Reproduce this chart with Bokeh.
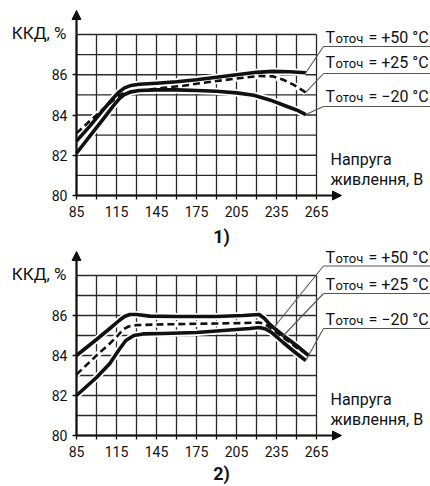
from bokeh.plotting import figure
from bokeh.layouts import column
from bokeh.models import Range1d, FixedTicker, Arrow, NormalHead
from bokeh.core.properties import value
from bokeh.embed import file_html
from bokeh.resources import INLINE

# ---------------- data ----------------
volt_ticks = [85, 115, 145, 175, 205, 235, 265]
volt_minor = [100, 130, 160, 190, 220, 250]
eff_ticks = [80, 82, 84, 86]
eff_minor = [81, 83, 85, 87]
grid_volts = [85, 100, 115, 130, 145, 160, 175, 190, 205, 220, 235, 250, 265]
grid_effs = [80, 81, 82, 83, 84, 85, 86, 87, 88]

series_labels = ["= +50 °C", "= +25 °C", "= \u221220 °C"]

# chart 1)
c1_v_p50 = [85, 95, 105, 112, 117, 121, 126, 132, 145, 160, 175, 190, 205, 220, 232, 245, 257]
c1_e_p50 = [82.7, 83.45, 84.25, 84.8, 85.15, 85.35, 85.47, 85.53, 85.58, 85.65, 85.75, 85.88, 86.0, 86.12, 86.17, 86.15, 86.1]
c1_v_p25 = [85, 95, 105, 112, 117, 121, 126, 135, 150, 165, 180, 195, 210, 222, 232, 240, 248, 257]
c1_e_p25 = [83.1, 83.7, 84.3, 84.7, 84.98, 85.1, 85.17, 85.22, 85.35, 85.45, 85.6, 85.73, 85.85, 85.94, 85.92, 85.75, 85.5, 85.12]
c1_v_m20 = [85, 95, 105, 112, 117, 121, 126, 132, 145, 160, 175, 190, 205, 218, 230, 242, 250, 257]
c1_e_m20 = [82.1, 82.95, 83.8, 84.4, 84.8, 85.02, 85.15, 85.22, 85.25, 85.25, 85.22, 85.18, 85.1, 84.98, 84.75, 84.45, 84.25, 84.02]

# chart 2)
c2_v_p50 = [85, 100, 110, 117, 121, 125, 130, 140, 160, 190, 210, 222, 226, 230, 240, 250, 259]
c2_e_p50 = [84.0, 84.8, 85.35, 85.75, 85.95, 86.05, 86.05, 85.97, 85.95, 85.95, 86.0, 86.05, 85.85, 85.55, 85.0, 84.5, 84.0]
c2_v_p25 = [85, 100, 110, 116, 120, 124, 130, 145, 170, 190, 210, 222, 226, 230, 240, 247, 254]
c2_e_p25 = [83.05, 84.0, 84.6, 85.0, 85.3, 85.45, 85.52, 85.55, 85.58, 85.6, 85.62, 85.65, 85.58, 85.4, 84.9, 84.55, 84.2]
c2_v_m20 = [85, 100, 110, 117, 122, 128, 135, 150, 175, 195, 215, 222, 227, 231, 240, 250, 257]
c2_e_m20 = [82.0, 82.9, 83.6, 84.3, 84.75, 85.0, 85.08, 85.1, 85.15, 85.25, 85.35, 85.4, 85.32, 85.17, 84.65, 84.1, 83.75]

# points the label leader lines point to (volts, efficiency)
c1_lead_v = [257, 257, 257]
c1_lead_e = [86.1, 85.12, 84.02]
c2_lead_v = [233, 239.5, 257]
c2_lead_e = [85.4, 84.95, 83.75]

FONT = "Roboto"
INK = "#111111"
GRID = "#2a2a2a"
LEAD = "#555555"

W = 430
PX_PER_VOLT = 240 / 180.0   # 240 px for 85..265 V
X0_PX = 76                  # page x of 85 V


def dx(px):
    return 85 + (px - X0_PX) / PX_PER_VOLT


def build(top_px, height, base_px, px_per_pct, series, lead_v, lead_e,
          lab_mid, lab_line, volt_lab_mid, title_mid, number_text, number_mid):
    def dy(py):
        return 80 + (base_px - py) / px_per_pct

    p = figure(width=W, height=height, output_backend="svg", toolbar_location=None,
               x_range=Range1d(dx(0), dx(W)),
               y_range=Range1d(dy(top_px + height), dy(top_px)),
               min_border=0)
    p.background_fill_color = "white"
    p.border_fill_color = "white"
    p.outline_line_color = None

    # grid drawn only inside the diagram box
    p.xgrid.visible = False
    p.ygrid.visible = False
    p.segment(x0=grid_volts, y0=[grid_effs[0]] * len(grid_volts),
              x1=grid_volts, y1=[grid_effs[-1]] * len(grid_volts),
              line_color=GRID, line_width=1.3)
    p.segment(x0=[grid_volts[0]] * len(grid_effs), y0=grid_effs,
              x1=[grid_volts[-1]] * len(grid_effs), y1=grid_effs,
              line_color=GRID, line_width=1.3)

    # axes fixed at the diagram's origin
    xt = FixedTicker(ticks=volt_ticks, minor_ticks=volt_minor)
    yt = FixedTicker(ticks=eff_ticks, minor_ticks=eff_minor)
    p.xaxis.ticker = xt
    p.yaxis.ticker = yt
    p.xaxis.fixed_location = grid_effs[0]
    p.yaxis.fixed_location = grid_volts[0]
    p.xaxis.bounds = (grid_volts[0], grid_volts[-1])
    p.yaxis.bounds = (grid_effs[0], grid_effs[-1])
    for ax in (p.xaxis, p.yaxis):
        ax.axis_line_width = 2.2
        ax.axis_line_color = INK
        ax.major_tick_in = 0
        ax.major_tick_out = 4
        ax.minor_tick_in = 0
        ax.major_tick_line_color = INK
        ax.minor_tick_line_color = INK
        ax.major_tick_line_width = 1.3
        ax.minor_tick_line_width = 1.3
        ax.major_label_text_font = FONT
        ax.major_label_text_font_size = "14px"
        ax.major_label_text_color = INK
    p.xaxis.minor_tick_out = 4
    p.yaxis.minor_tick_out = 0
    p.xaxis.major_label_standoff = 6
    p.yaxis.major_label_standoff = 5

    # axis arrows
    p.add_layout(Arrow(x_start=grid_volts[0], y_start=grid_effs[-1], x_end=grid_volts[0],
                       y_end=dy(base_px - 8 * px_per_pct - 24),
                       line_width=2.2, line_color=INK,
                       end=NormalHead(size=9, fill_color=INK, line_color=INK, line_width=1)))
    p.add_layout(Arrow(x_start=grid_volts[-1], y_start=grid_effs[0], x_end=dx(341), y_end=grid_effs[0],
                       line_width=2.2, line_color=INK,
                       end=NormalHead(size=9, fill_color=INK, line_color=INK, line_width=1)))

    # curves: white halo, then the line
    styles = [dict(line_width=3.6, line_dash="solid"),
              dict(line_width=2.6, line_dash="7 4"),
              dict(line_width=3.6, line_dash="solid")]
    for (xs, ys), st in zip(series, styles):
        p.line(xs, ys, line_color="white", line_width=st["line_width"] + 3.5)
    for (xs, ys), st in zip(series, styles):
        p.line(xs, ys, line_color=INK, line_width=st["line_width"], line_dash=st["line_dash"],
               line_join="round", line_cap="butt")

    # series labels with leader lines
    ul_y = [dy(v) for v in lab_line]
    p.segment(x0=[dx(323)] * 3, y0=ul_y, x1=[dx(W)] * 3, y1=ul_y, line_color=LEAD, line_width=1.2)
    p.segment(x0=lead_v, y0=lead_e, x1=[dx(323)] * 3, y1=ul_y, line_color=LEAD, line_width=1.1)
    lm_y = [dy(v) for v in lab_mid]
    p.text(x=[dx(325)] * 3, y=lm_y, text=["T"] * 3, text_font=value(FONT),
           text_font_size=value("16px"), text_baseline="middle", text_color=INK)
    p.text(x=[dx(325)] * 3, y=lm_y, x_offset=10, y_offset=1, text=["оточ"] * 3, text_font=value(FONT),
           text_font_size=value("13px"), text_baseline="middle", text_color=INK)
    p.text(x=[dx(325)] * 3, y=lm_y, x_offset=43, text=series_labels,
           text_font=value(FONT), text_font_size=value("16px"), text_baseline="middle",
           text_color=INK)

    # axis titles
    p.text(x=[dx(66)], y=[dy(title_mid)], text=["ККД, %"], text_font=value(FONT),
           text_font_size=value("17px"), text_align="right", text_baseline="middle",
           text_color=INK)
    p.text(x=[dx(330)] * 2, y=[dy(v) for v in volt_lab_mid], text=["Напруга", "живлення, В"],
           text_font=value(FONT), text_font_size=value("16px"), text_baseline="middle",
           text_color=INK)

    # panel number
    p.text(x=[dx(221)], y=[dy(number_mid)], text=[number_text], text_font=value(FONT),
           text_font_size=value("18px"), text_font_style="bold", text_align="center",
           text_baseline="middle", text_color=INK)
    return p


p1 = build(0, 247, 195, 20.125,
           [(c1_v_p50, c1_e_p50), (c1_v_p25, c1_e_p25), (c1_v_m20, c1_e_m20)],
           c1_lead_v, c1_lead_e,
           [36.5, 61.5, 95.5], [46, 73, 106], [158.5, 179], 32.5, "1)", 235.5)
p2 = build(247, 239, 435, 20.0,
           [(c2_v_p50, c2_e_p50), (c2_v_p25, c2_e_p25), (c2_v_m20, c2_e_m20)],
           c2_lead_v, c2_lead_e,
           [257, 284, 318.5], [265.5, 293, 328], [398.5, 419], 273.5, "2)", 473)

layout = column(p1, p2)
open("out.html", "w").write(file_html(layout, INLINE))
